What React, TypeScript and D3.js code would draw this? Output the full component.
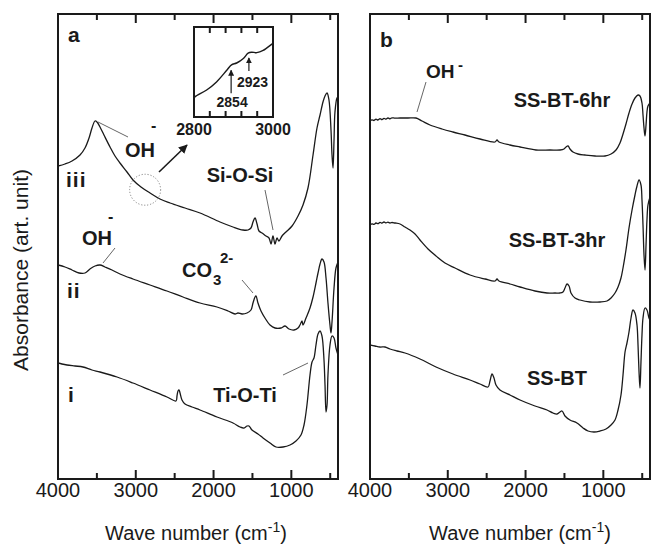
import React from "react";
import * as d3 from "d3";

type P = [number, number];

// ---- Panel a: wavenumber (cm-1), absorbance (arb.) ----
const seriesA_iii: P[] = [
  [4000, 3.13], [3910, 3.15], [3820, 3.18], [3717, 3.24], [3653, 3.31], [3601, 3.41], [3563, 3.51],
  [3524, 3.58], [3499, 3.57], [3460, 3.52], [3409, 3.44], [3331, 3.32], [3267, 3.23], [3203, 3.16],
  [3113, 3.07], [3036, 2.99], [2933, 2.92], [2817, 2.86], [2689, 2.8], [2560, 2.76], [2367, 2.71],
  [2174, 2.66], [1917, 2.57], [1750, 2.52], [1621, 2.49], [1557, 2.49], [1519, 2.51], [1493, 2.57],
  [1467, 2.61], [1441, 2.55], [1416, 2.48], [1377, 2.46], [1326, 2.43], [1287, 2.41], [1261, 2.35],
  [1236, 2.43], [1210, 2.35], [1184, 2.41], [1159, 2.38], [1120, 2.43], [1069, 2.47], [991, 2.53],
  [914, 2.63], [850, 2.74], [786, 2.91], [721, 3.24], [670, 3.51], [631, 3.64], [593, 3.77],
  [567, 3.83], [541, 3.86], [516, 3.79], [490, 3.49], [477, 3.24], [464, 3.11], [451, 3.39],
  [439, 3.67], [413, 3.81], [400, 3.82],
];
const seriesA_ii: P[] = [
  [4000, 2.14], [3910, 2.12], [3820, 2.09], [3730, 2.06], [3653, 2.06], [3589, 2.1], [3524, 2.13],
  [3460, 2.14], [3396, 2.12], [3306, 2.09], [3203, 2.05], [3036, 2.0], [2817, 1.94], [2599, 1.88],
  [2393, 1.82], [2174, 1.76], [1956, 1.72], [1814, 1.68], [1724, 1.65], [1686, 1.66], [1634, 1.65],
  [1570, 1.66], [1519, 1.69], [1493, 1.76], [1467, 1.82], [1454, 1.83], [1429, 1.76], [1390, 1.68],
  [1339, 1.61], [1274, 1.54], [1210, 1.51], [1133, 1.51], [1081, 1.53], [1030, 1.5], [966, 1.49],
  [914, 1.51], [889, 1.54], [863, 1.58], [850, 1.54], [811, 1.61], [760, 1.71], [721, 1.82],
  [683, 1.96], [657, 2.06], [631, 2.15], [606, 2.2], [580, 2.17], [554, 2.01], [529, 1.76],
  [503, 1.54], [490, 1.46], [477, 1.57], [451, 1.91], [426, 2.11], [400, 2.17],
];
const seriesA_i: P[] = [
  [4000, 1.16], [3950, 1.15], [3884, 1.14], [3781, 1.13], [3679, 1.12], [3563, 1.09], [3460, 1.07],
  [3241, 1.02], [3036, 0.96], [2817, 0.89], [2599, 0.82], [2483, 0.78], [2470, 0.83], [2457, 0.88],
  [2444, 0.89], [2431, 0.86], [2406, 0.79], [2367, 0.75], [2277, 0.72], [2174, 0.69], [1956, 0.62],
  [1750, 0.56], [1660, 0.52], [1609, 0.51], [1570, 0.53], [1544, 0.53], [1506, 0.49], [1429, 0.45],
  [1364, 0.41], [1274, 0.36], [1197, 0.32], [1107, 0.32], [1017, 0.34], [940, 0.38], [876, 0.44],
  [837, 0.54], [799, 0.74], [760, 1.04], [734, 1.17], [709, 1.21], [683, 1.34], [657, 1.45],
  [631, 1.48], [606, 1.43], [580, 1.19], [567, 0.94], [554, 0.67], [541, 0.74], [529, 1.04],
  [503, 1.34], [477, 1.43], [451, 1.41], [426, 1.31], [400, 1.24],
];

// ---- Panel b ----
const seriesB_6hr: P[] = [
  [4000, 3.58], [3975, 3.592], [3949, 3.585], [3923, 3.598], [3897, 3.59], [3871, 3.603], [3846, 3.594],
  [3820, 3.607], [3794, 3.598], [3769, 3.61], [3743, 3.602], [3717, 3.612], [3679, 3.608], [3614, 3.61],
  [3511, 3.61], [3409, 3.61], [3331, 3.58], [3229, 3.54],
  [3074, 3.5], [2933, 3.47], [2779, 3.44], [2586, 3.4], [2393, 3.37], [2367, 3.39], [2341, 3.37],
  [2200, 3.34], [2071, 3.32], [1866, 3.29], [1686, 3.29], [1557, 3.29], [1506, 3.3], [1480, 3.32],
  [1454, 3.33], [1429, 3.3], [1390, 3.27], [1326, 3.25], [1236, 3.24], [1107, 3.23], [979, 3.23],
  [901, 3.25], [837, 3.29], [786, 3.36], [747, 3.45], [709, 3.55], [670, 3.66], [631, 3.75],
  [593, 3.81], [554, 3.84], [529, 3.83], [503, 3.76], [490, 3.64], [477, 3.51], [464, 3.43],
  [451, 3.54], [439, 3.67], [426, 3.73], [400, 3.76],
];
const seriesB_3hr: P[] = [
  [4000, 2.54], [3974, 2.552], [3949, 2.546], [3923, 2.56], [3897, 2.553], [3871, 2.567], [3846, 2.558],
  [3820, 2.57], [3794, 2.561], [3769, 2.568], [3743, 2.56], [3717, 2.565], [3679, 2.56], [3614, 2.55],
  [3550, 2.52], [3486, 2.49], [3421, 2.45], [3357, 2.39],
  [3254, 2.3], [3151, 2.23], [3036, 2.16], [2907, 2.11], [2714, 2.04], [2521, 2.0], [2393, 1.98],
  [2367, 2.0], [2341, 1.98], [2200, 1.95], [2071, 1.92], [1879, 1.88], [1724, 1.86], [1621, 1.86],
  [1557, 1.86], [1519, 1.87], [1493, 1.91], [1467, 1.95], [1441, 1.93], [1416, 1.86], [1364, 1.81],
  [1300, 1.79], [1171, 1.77], [1043, 1.77], [953, 1.78], [901, 1.81], [850, 1.86], [811, 1.92],
  [773, 2.01], [747, 2.11], [709, 2.29], [670, 2.51], [631, 2.69], [593, 2.84], [567, 2.93],
  [541, 2.99], [516, 2.94], [503, 2.79], [490, 2.54], [477, 2.24], [464, 2.09], [451, 2.34],
  [439, 2.59], [426, 2.74], [400, 2.82],
];
const seriesB_bt: P[] = [
  [4000, 1.34], [3936, 1.33], [3871, 1.32], [3807, 1.32], [3743, 1.3], [3653, 1.28], [3550, 1.26],
  [3357, 1.2], [3151, 1.12], [2933, 1.05], [2714, 0.99], [2586, 0.95], [2483, 0.92], [2457, 0.98],
  [2431, 1.05], [2406, 1.01], [2380, 0.94], [2329, 0.89], [2200, 0.84], [2071, 0.79], [1879, 0.73],
  [1724, 0.69], [1647, 0.66], [1596, 0.65], [1557, 0.67], [1531, 0.68], [1493, 0.63], [1429, 0.59],
  [1339, 0.56], [1261, 0.51], [1197, 0.48], [1120, 0.47], [1043, 0.48], [966, 0.5], [901, 0.54],
  [850, 0.59], [811, 0.69], [773, 0.84], [747, 1.04], [721, 1.27], [696, 1.36], [670, 1.47],
  [644, 1.61], [619, 1.69], [593, 1.66], [567, 1.54], [554, 1.34], [541, 1.07], [529, 0.91],
  [516, 1.17], [503, 1.44], [490, 1.61], [464, 1.71], [439, 1.69], [413, 1.61], [400, 1.59],
];

// ---- Inset (panel a) ----
const insetSeries: P[] = [
  [2800, 0.21], [2803, 0.226], [2832, 0.3], [2857, 0.39], [2883, 0.52], [2895, 0.58], [2908, 0.6],
  [2925, 0.65], [2937, 0.71], [2946, 0.72], [2959, 0.715], [2975, 0.74], [2997, 0.81], [3000, 0.82],
];
const insetTickLabels = [2800, 3000];
const insetTicks = [2840, 2880, 2920, 2960];
const insetMarks = [
  { label: "2854", at: 2894 },
  { label: "2923", at: 2939 },
];

const majorTicks = [4000, 3000, 2000, 1000];
const minorTicks = [3500, 2500, 1500, 500];
const xDomain: [number, number] = [4000, 400];
const yDomain: [number, number] = [0, 4.65];

const FONT = "'Liberation Sans', Arial, Helvetica, sans-serif";
const INK = "#1a1a1a";

const PT = 14, PB = 479;

function Frame({ x0, x1, id, children }: { x0: number; x1: number; id: string; children?: React.ReactNode }) {
  const x = d3.scaleLinear().domain(xDomain).range([x0, x1]);
  return (
    <g>
      <clipPath id={id}>
        <rect x={x0} y={PT} width={x1 - x0} height={PB - PT} />
      </clipPath>
      <g clipPath={`url(#${id})`}>{children}</g>
      {majorTicks.map((t) => (
        <g key={"M" + t}>
          <line x1={x(t)} x2={x(t)} y1={PB} y2={PB - 9} stroke={INK} strokeWidth={2} />
          <line x1={x(t)} x2={x(t)} y1={PT} y2={PT + 9} stroke={INK} strokeWidth={2} />
          <text x={x(t)} y={497} textAnchor="middle" fontSize={20} fill={INK} fontFamily={FONT}>
            {t}
          </text>
        </g>
      ))}
      {minorTicks.map((t) => (
        <g key={"m" + t}>
          <line x1={x(t)} x2={x(t)} y1={PB} y2={PB - 6} stroke={INK} strokeWidth={2} />
          <line x1={x(t)} x2={x(t)} y1={PT} y2={PT + 6} stroke={INK} strokeWidth={2} />
        </g>
      ))}
      <rect x={x0} y={PT} width={x1 - x0} height={PB - PT} fill="none" stroke={INK} strokeWidth={2} />
    </g>
  );
}

export default function App() {
  const y = d3.scaleLinear().domain(yDomain).range([PB, PT]);
  const xa = d3.scaleLinear().domain(xDomain).range([58, 338]);
  const xb = d3.scaleLinear().domain(xDomain).range([370, 650]);
  const lineA = d3.line<P>().x((d) => xa(d[0])).y((d) => y(d[1])).curve(d3.curveCatmullRom.alpha(0.5));
  const lineB = d3.line<P>().x((d) => xb(d[0])).y((d) => y(d[1])).curve(d3.curveCatmullRom.alpha(0.5));

  const ix = d3.scaleLinear().domain([2800, 3000]).range([194, 273]);
  const iy = d3.scaleLinear().domain([0, 1]).range([117, 27]);
  const insetLine = d3.line<P>().x((d) => ix(d[0])).y((d) => iy(d[1])).curve(d3.curveCatmullRom.alpha(0.5));
  const insetAt = (w: number) => {
    const i = d3.bisector((d: P) => d[0]).left(insetSeries, w);
    const a = insetSeries[Math.max(0, i - 1)], b = insetSeries[Math.min(insetSeries.length - 1, i)];
    const t = b[0] === a[0] ? 0 : (w - a[0]) / (b[0] - a[0]);
    return a[1] + t * (b[1] - a[1]);
  };

  const curveStyle = { fill: "none", stroke: INK, strokeWidth: 1.3 };
  const ptr = { stroke: "#555", strokeWidth: 0.9 };
  const bold = { fontFamily: FONT, fontWeight: 700 as const, fill: INK };

  // circle center on curve iii
  const circW = 2880;
  const circY = (() => {
    const i = seriesA_iii.findIndex((d) => d[0] <= circW);
    const a = seriesA_iii[i - 1], b = seriesA_iii[i];
    return a[1] + ((circW - a[0]) / (b[0] - a[0])) * (b[1] - a[1]);
  })();

  return (
    <svg
      width={651}
      height={545}
      style={{ position: "absolute", left: 0, top: 0, background: "#fff" }}
      fontFamily={FONT}
    >
      <defs>
        <marker id="ah" viewBox="0 0 10 10" refX="9" refY="5" markerWidth="9" markerHeight="9" orient="auto" markerUnits="userSpaceOnUse">
          <path d="M0,0 L10,5 L0,10 z" fill={INK} />
        </marker>
        <marker id="ahs" viewBox="0 0 10 10" refX="9" refY="5" markerWidth="6" markerHeight="6" orient="auto" markerUnits="userSpaceOnUse">
          <path d="M0,0 L10,5 L0,10 z" fill={INK} />
        </marker>
      </defs>
      <rect x={0} y={0} width={651} height={545} fill="#fff" />

      {/* Panel a */}
      <Frame x0={58} x1={338} id="clipA">
        <path d={lineA(seriesA_iii) || ""} {...curveStyle} />
        <path d={lineA(seriesA_ii) || ""} {...curveStyle} />
        <path d={lineA(seriesA_i) || ""} {...curveStyle} />
      </Frame>
      <text x={68} y={42} fontSize={21} {...bold}>a</text>
      <text x={66} y={187} fontSize={21} letterSpacing={1} {...bold}>iii</text>
      <text x={67} y={298} fontSize={21} letterSpacing={1} {...bold}>ii</text>
      <text x={68} y={402} fontSize={21} {...bold}>i</text>

      {/* OH iii */}
      <line x1={98} y1={122} x2={128} y2={137} {...ptr} />
      <text x={125} y={157} fontSize={20} {...bold}>OH</text>
      <text x={151} y={131} fontSize={16} {...bold}>-</text>
      {/* OH ii */}
      <line x1={103} y1={263} x2={115} y2={248} {...ptr} />
      <text x={82} y={245} fontSize={20} {...bold}>OH</text>
      <text x={108} y={222} fontSize={16} {...bold}>-</text>
      {/* Si-O-Si */}
      <text x={240} y={182} fontSize={20} textAnchor="middle" {...bold}>Si-O-Si</text>
      <line x1={265} y1={190} x2={273} y2={230} {...ptr} />
      {/* CO3 2- */}
      <text x={182} y={277} fontSize={20} {...bold}>CO</text>
      <text x={213} y={285} fontSize={15} {...bold}>3</text>
      <text x={220} y={263} fontSize={15} {...bold}>2-</text>
      <line x1={242} y1={280} x2={253} y2={293} {...ptr} />
      {/* Ti-O-Ti */}
      <text x={245} y={402} fontSize={20} textAnchor="middle" {...bold}>Ti-O-Ti</text>
      <line x1={283} y1={375} x2={308} y2={363} {...ptr} />

      {/* dotted circle and arrow to inset */}
      <circle cx={xa(circW)} cy={y(circY)} r={15.5} fill="none" stroke="#777" strokeWidth={0.9} strokeDasharray="1.2,1.8" />
      <line x1={159} y1={172} x2={187} y2={145} stroke={INK} strokeWidth={1.6} markerEnd="url(#ah)" />

      {/* Inset */}
      <rect x={194} y={27} width={79} height={90} fill="#fff" stroke={INK} strokeWidth={2} />
      <path d={insetLine(insetSeries) || ""} fill="none" stroke={INK} strokeWidth={1.4} />
      {insetTicks.map((t) => (
        <g key={"it" + t}>
          <line x1={ix(t)} x2={ix(t)} y1={27} y2={33} stroke={INK} strokeWidth={2} />
          <line x1={ix(t)} x2={ix(t)} y1={117} y2={111} stroke={INK} strokeWidth={2} />
        </g>
      ))}
      {insetTickLabels.map((t) => (
        <text key={"il" + t} x={ix(t)} y={135} fontSize={16} textAnchor="middle" {...bold}>{t}</text>
      ))}
      {insetMarks.map((m, k) => {
        const tipY = iy(insetAt(m.at)) + 5;
        const len = k === 0 ? 23 : 13;
        return (
          <g key={m.label}>
            <line x1={ix(m.at)} x2={ix(m.at)} y1={tipY + len} y2={tipY} stroke={INK} strokeWidth={1.2} markerEnd="url(#ahs)" />
            <text
              x={k === 0 ? ix(m.at) + 1 : ix(m.at) - 12}
              y={k === 0 ? 107 : 87}
              fontSize={14}
              textAnchor={k === 0 ? "middle" : "start"}
              {...bold}
            >
              {m.label}
            </text>
          </g>
        );
      })}

      {/* Panel b */}
      <Frame x0={370} x1={650} id="clipB">
        <path d={lineB(seriesB_6hr) || ""} {...curveStyle} />
        <path d={lineB(seriesB_3hr) || ""} {...curveStyle} />
        <path d={lineB(seriesB_bt) || ""} {...curveStyle} />
      </Frame>
      <text x={380} y={47} fontSize={21} {...bold}>b</text>
      <line x1={417} y1={112} x2={426} y2={82} {...ptr} />
      <text x={426} y={78} fontSize={19} {...bold}>OH</text>
      <text x={458} y={70} fontSize={15} {...bold}>-</text>
      <text x={562} y={107} fontSize={20} textAnchor="middle" {...bold}>SS-BT-6hr</text>
      <text x={557} y={247} fontSize={20} textAnchor="middle" {...bold}>SS-BT-3hr</text>
      <text x={557} y={385} fontSize={20} textAnchor="middle" {...bold}>SS-BT</text>

      {/* Axis titles */}
      <text x={196} y={540} fontSize={20} textAnchor="middle" fill={INK}>
        <tspan>Wave number (cm</tspan>
        <tspan dy={-8} fontSize={14}>-1</tspan>
        <tspan dy={8}>)</tspan>
      </text>
      <text x={520} y={540} fontSize={20} textAnchor="middle" fill={INK}>
        <tspan>Wave number (cm</tspan>
        <tspan dy={-8} fontSize={14}>-1</tspan>
        <tspan dy={8}>)</tspan>
      </text>
      <text
        transform="translate(28,270) rotate(-90)"
        fontSize={21}
        textAnchor="middle"
        fill={INK}
      >
        Absorbance (art. unit)
      </text>
    </svg>
  );
}
